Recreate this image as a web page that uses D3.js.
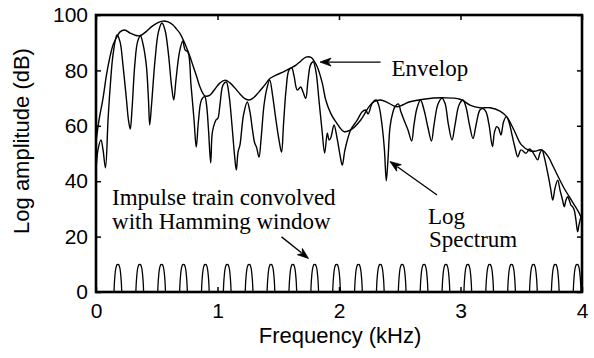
<!DOCTYPE html>
<html>
<head>
<meta charset="utf-8">
<script src="https://cdn.jsdelivr.net/npm/d3@7"></script>
<style>
  html, body { margin: 0; padding: 0; background: #fff; }
  svg { display: block; }
  .tick text { font-family: "Liberation Sans", Arial, Helvetica, sans-serif; font-size: 21px; fill: #000; }
  .tick line { stroke: #000; stroke-width: 1.5px; }
  .ann { font-family: "Liberation Serif", "Times New Roman", serif; font-size: 23px; fill: #000; }
  .lab { font-family: "Liberation Sans", Arial, Helvetica, sans-serif; font-size: 22px; fill: #000; }
</style>
</head>
<body>
<script>
// ---------- data ----------
const xTicks = [0, 1, 2, 3, 4];
const yTicks = [0, 20, 40, 60, 80, 100];

// Log spectrum: frequency (kHz)
const specF = [0,0.016,0.041,0.058,0.078,0.099,0.115,0.14,0.173,0.198,0.222,0.251,0.267,0.282,0.296,0.319,0.342,0.366,0.387,0.414,0.432,0.442,0.457,0.486,0.514,0.543,0.568,0.597,0.621,0.64,0.658,0.687,0.714,0.733,0.757,0.782,0.807,0.825,0.844,0.868,0.895,0.91,0.926,0.944,0.955,0.967,0.988,1.004,1.02,1.045,1.072,1.095,1.119,1.14,1.155,1.169,1.185,1.214,1.245,1.267,1.288,1.306,1.321,1.342,1.358,1.383,1.407,1.43,1.453,1.481,1.506,1.527,1.543,1.564,1.588,1.611,1.63,1.657,1.685,1.704,1.726,1.745,1.765,1.788,1.811,1.835,1.86,1.882,1.904,1.918,1.932,1.959,1.984,2.008,2.027,2.049,2.096,2.151,2.191,2.219,2.239,2.274,2.305,2.329,2.354,2.374,2.389,2.403,2.42,2.444,2.46,2.488,2.51,2.535,2.568,2.598,2.617,2.642,2.671,2.7,2.733,2.761,2.782,2.815,2.848,2.872,2.901,2.93,2.955,2.988,3.021,3.045,3.074,3.103,3.128,3.16,3.185,3.21,3.235,3.263,3.28,3.298,3.313,3.333,3.354,3.377,3.399,3.424,3.449,3.471,3.498,3.539,3.568,3.588,3.613,3.635,3.654,3.671,3.691,3.718,3.741,3.759,3.778,3.8,3.819,3.84,3.854,3.868,3.882,3.897,3.909,3.923,3.936,3.95,3.964,3.975,3.992,4.0];
// Log spectrum: amplitude (dB)
const specDb = [43.3,51.3,54.9,51.3,44.8,62.1,72.9,85.6,92.8,90.3,81.9,69.3,62.1,58.8,65.7,81.9,90.3,92.4,89.5,81.9,69.3,60.3,67.5,83.8,93.9,97.1,94.6,85.6,74.7,69.3,76.5,86.6,90.6,87.4,86.6,74.7,62.1,52.3,62.1,69.3,70.5,67.5,58.5,46.6,56.7,59.6,62.1,62.8,67.5,74.7,75.8,71.1,60.3,49.5,44.0,50.5,53.1,63.9,68.6,65.0,58.5,53.8,52.3,48.7,54.9,67.5,73.6,76.5,71.1,62.1,54.9,50.5,60.3,72.9,80.1,80.9,78.0,72.9,74.0,72.2,69.9,76.5,81.9,83.1,79.4,69.3,58.5,50.2,57.4,54.9,55.6,60.3,55.6,49.5,45.8,51.3,58.5,62.1,65.1,65.7,64.3,68.2,69.3,67.1,60.3,51.3,40.1,47.7,59.6,65.0,66.8,67.9,65.0,62.1,58.5,54.5,60.3,66.4,69.3,65.7,59.2,54.5,60.3,67.9,69.9,68.2,60.3,54.9,60.3,67.5,69.3,66.8,60.3,55.4,60.3,65.7,66.2,65.0,60.3,52.5,57.8,59.7,59.2,56.7,61.4,63.3,61.4,56.7,52.0,48.8,51.3,50.1,51.6,50.9,49.1,47.7,50.2,51.3,48.4,42.9,37.5,33.2,37.5,40.4,36.8,33.2,30.8,33.2,34.4,32.9,31.4,30.7,29.6,26.0,21.7,24.2,27.2,27.8];

// Spectral envelope
const envF = [0,0.025,0.058,0.086,0.113,0.14,0.167,0.198,0.236,0.28,0.329,0.362,0.412,0.455,0.502,0.551,0.593,0.634,0.663,0.691,0.733,0.774,0.802,0.829,0.856,0.897,0.938,0.979,1.021,1.062,1.103,1.144,1.185,1.222,1.254,1.284,1.333,1.383,1.432,1.481,1.539,1.597,1.646,1.687,1.728,1.77,1.8,1.821,1.863,1.891,1.932,1.973,2.041,2.096,2.179,2.247,2.288,2.343,2.4,2.475,2.584,2.694,2.858,2.996,3.078,3.16,3.243,3.325,3.38,3.44,3.5,3.57,3.61,3.668,3.723,3.764,3.846,3.895,3.978,4.0];
const envDb = [54.2,62.1,70.0,78.3,84.5,89.2,91.7,93.9,94.6,93.5,92.6,92.5,94.0,95.7,97.1,97.8,97.5,96.4,94.9,93.4,89.5,84.9,81.2,77.7,74.0,70.8,71.1,73.3,75.5,76.5,75.5,73.6,71.5,69.9,69.3,69.7,71.8,74.4,77.1,78.3,79.4,80.7,81.9,83.4,84.8,84.7,83.0,81.3,75.3,69.3,64.5,61.5,57.9,58.5,62.1,66.9,68.7,69.3,68.4,66.9,68.7,69.6,70.1,69.6,67.5,66.5,66.5,65.3,63.3,58.5,53.2,51.0,50.8,51.3,48.8,45.2,38.0,34.4,28.4,26.0];

// Impulse train convolved with Hamming window: harmonic frequencies (kHz)
const harmonics = [0.18,0.36,0.54,0.72,0.90,1.08,1.26,1.44,1.62,1.80,1.98,2.16,2.34,2.52,2.70,2.88,3.06,3.24,3.42,3.60,3.78,3.96];
// one window main lobe: offset from harmonic (kHz) and level (dB)
const lobeOffset = [-0.032,-0.029,-0.024,-0.018,-0.011,-0.005,0,0.005,0.011,0.018,0.024,0.029,0.032];
const lobeDb = [0,3,6,8.3,9.5,9.9,10,9.9,9.5,8.3,6,3,0];

// annotations in data units
const annTexts = [
  {text: "Envelop", f: 2.432, db: 78.0},
  {text: "Log", f: 2.733, db: 24.5},
  {text: "Spectrum", f: 2.741, db: 16.2},
  {text: "Impulse train convolved", f: 0.132, db: 31.4},
  {text: "with Hamming window", f: 0.132, db: 22.7}
];
const annArrows = [
  {f0: 2.342, db0: 83.0, f1: 1.844, db1: 83.0},
  {f0: 2.807, db0: 35.0, f1: 2.42, db1: 47.1},
  {f0: 1.527, db0: 19.9, f1: 1.749, db1: 12.1}
];

// ---------- drawing ----------
const W = 594, H = 358;
const L = 96, R = 582, T = 15, B = 292;

const svg = d3.select("body").append("svg").attr("width", W).attr("height", H);

const x = d3.scaleLinear().domain([0, 4]).range([L, R]);
const y = d3.scaleLinear().domain([0, 100]).range([B, T]);

const line = d3.line().x(d => x(d[0])).y(d => y(d[1])).curve(d3.curveCatmullRom.alpha(0.5));

const plot = svg.append("g");
plot.append("clipPath").attr("id", "clip").append("rect")
  .attr("x", L).attr("y", T).attr("width", R - L).attr("height", B - T);
const inner = plot.append("g").attr("clip-path", "url(#clip)");

inner.append("path")
  .datum(specF.map((f, i) => [f, specDb[i]]))
  .attr("d", line).attr("fill", "none").attr("stroke", "#000")
  .attr("stroke-width", 1.4).attr("stroke-linejoin", "round");

inner.append("path")
  .datum(envF.map((f, i) => [f, envDb[i]]))
  .attr("d", line).attr("fill", "none").attr("stroke", "#000")
  .attr("stroke-width", 1.4);

const lobeLine = d3.line().x(d => x(d[0])).y(d => y(d[1])).curve(d3.curveMonotoneX);
inner.selectAll("path.lobe").data(harmonics).join("path")
  .attr("class", "lobe")
  .attr("d", h => lobeLine(lobeOffset.map((o, i) => [h + o, lobeDb[i]])))
  .attr("fill", "none").attr("stroke", "#000").attr("stroke-width", 1.3);

// axes (inward ticks on all four sides)
const gx = svg.append("g").attr("transform", `translate(0,${B})`)
  .call(d3.axisBottom(x).tickValues(xTicks).tickFormat(d3.format("d")).tickSize(-5).tickPadding(11));
const gy = svg.append("g").attr("transform", `translate(${L},0)`)
  .call(d3.axisLeft(y).tickValues(yTicks).tickFormat(d3.format("d")).tickSize(-5).tickPadding(8));
const gt = svg.append("g").attr("transform", `translate(0,${T})`)
  .call(d3.axisTop(x).tickValues(xTicks).tickFormat("").tickSize(-5));
const gr = svg.append("g").attr("transform", `translate(${R},0)`)
  .call(d3.axisRight(y).tickValues(yTicks).tickFormat("").tickSize(-5));
[gx, gy, gt, gr].forEach(g => { g.select(".domain").remove(); g.attr("font-size", null).attr("font-family", null); });

svg.append("rect").attr("x", L).attr("y", T).attr("width", R - L).attr("height", B - T)
  .attr("fill", "none").attr("stroke", "#000").attr("stroke-width", 2.6);

// axis labels
svg.append("text").attr("class", "lab").attr("text-anchor", "middle")
  .attr("x", (L + R) / 2 + 1).attr("y", 343).text("Frequency (kHz)");
svg.append("text").attr("class", "lab").attr("text-anchor", "middle")
  .attr("transform", "translate(29,141) rotate(-90)").text("Log amplitude (dB)");

// annotations
svg.selectAll("text.ann").data(annTexts).join("text")
  .attr("class", "ann").attr("x", d => x(d.f)).attr("y", d => y(d.db)).text(d => d.text);

const arrowG = svg.append("g");
annArrows.forEach(a => {
  const x0 = x(a.f0), y0 = y(a.db0), x1 = x(a.f1), y1 = y(a.db1);
  const ang = Math.atan2(y1 - y0, x1 - x0);
  const len = 11, hw = 4;
  const bx = x1 - len * Math.cos(ang), by = y1 - len * Math.sin(ang);
  arrowG.append("line").attr("x1", x0).attr("y1", y0).attr("x2", bx + 2 * Math.cos(ang)).attr("y2", by + 2 * Math.sin(ang))
    .attr("stroke", "#000").attr("stroke-width", 1.3);
  const p1 = [bx + hw * Math.sin(ang), by - hw * Math.cos(ang)];
  const p2 = [bx - hw * Math.sin(ang), by + hw * Math.cos(ang)];
  const pn = [x1 - (len - 3) * Math.cos(ang), y1 - (len - 3) * Math.sin(ang)];
  arrowG.append("path").attr("d", `M${x1},${y1}L${p1[0]},${p1[1]}L${pn[0]},${pn[1]}L${p2[0]},${p2[1]}Z`)
    .attr("fill", "#000").attr("stroke", "#000").attr("stroke-width", 0.8).attr("stroke-linejoin", "miter");
});
</script>
</body>
</html>
